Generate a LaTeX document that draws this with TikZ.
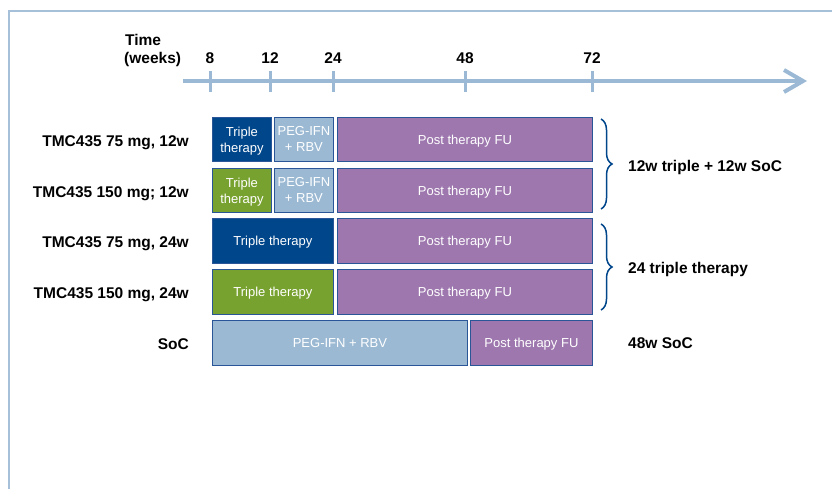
\documentclass[tikz,border=0pt]{standalone}
\usepackage{fontspec}
\setmainfont{Liberation Sans}
\usetikzlibrary{decorations.pathreplacing}
\definecolor{dblue}{HTML}{00468B}
\definecolor{dgreen}{HTML}{78A22F}
\definecolor{lblue}{HTML}{9BB9D3}
\definecolor{purp}{HTML}{9D77AE}
\definecolor{axisc}{HTML}{9BB9D4}
\definecolor{framec}{HTML}{A7C0DA}
\definecolor{edgec}{HTML}{2A5597}
\tikzset{
  bar/.style={draw=edgec, line width=0.9pt, fill=#1, anchor=north west, inner sep=0pt,
    text=white, align=center, text depth=0pt, font=\fontsize{13}{16}\selectfont},
  lab/.style={font=\fontsize{15.5}{18}\selectfont\bfseries, inner sep=0pt},
  tick/.style={draw=axisc, line width=3pt},
  bracestyle/.style={draw=dblue, line width=1.5pt, decorate,
    decoration={brace, amplitude=11pt, aspect=0.5}},
}
\begin{document}
\begin{tikzpicture}[x=1pt, y=-1pt]
\useasboundingbox (0,0) rectangle (832,489);
% frame
\draw[framec, line width=2pt] (9,489) -- (9,11) -- (832,11);
% axis
\coordinate (a0) at (183,81);
\coordinate (a1) at (803,81);
\draw[axisc, line width=4pt] (a0) -- (a1);
\draw[axisc, line width=4pt, line join=miter] (784,70) -- (a1) -- (784,92);
\foreach \x/\t in {210/8, 270/12, 333/24, 465/48, 592/72}{
  \draw[tick] (\x,71) -- (\x,92);
  \node[lab, anchor=base] (t\t) at (\x,64) {\t};
}
\node[lab, anchor=base west] (time) at (125,46) {Time};
\node[lab, anchor=base west] (weeks) at (124,64) {(weeks)};
% row 1
\node[bar=dblue, minimum width=59pt, minimum height=44pt] (r1a) at (212,117) {Triple\\therapy};
\node[bar=lblue, minimum width=59pt, minimum height=44pt] (r1b) at (274,117) {PEG-IFN\\+ RBV};
\node[bar=purp, minimum width=255pt, minimum height=44pt] (r1c) at (337,117) {Post therapy FU};
% row 2
\node[bar=dgreen, minimum width=59pt, minimum height=44pt] (r2a) at (212,168) {Triple\\therapy};
\node[bar=lblue, minimum width=59pt, minimum height=44pt] (r2b) at (274,168) {PEG-IFN\\+ RBV};
\node[bar=purp, minimum width=255pt, minimum height=44pt] (r2c) at (337,168) {Post therapy FU};
% row 3
\node[bar=dblue, minimum width=121pt, minimum height=45pt] (r3a) at (212,218) {Triple therapy};
\node[bar=purp, minimum width=255pt, minimum height=45pt] (r3c) at (337,218) {Post therapy FU};
% row 4
\node[bar=dgreen, minimum width=121pt, minimum height=45pt] (r4a) at (212,269) {Triple therapy};
\node[bar=purp, minimum width=255pt, minimum height=45pt] (r4c) at (337,269) {Post therapy FU};
% row 5
\node[bar=lblue, minimum width=255pt, minimum height=45pt] (r5a) at (212,320) {PEG-IFN + RBV};
\node[bar=purp, minimum width=122pt, minimum height=45pt] (r5c) at (470,320) {Post therapy FU};
% left labels
\node[lab, anchor=base east] (l1) at (189,146.5) {TMC435 75 mg, 12w};
\node[lab, anchor=base east] (l2) at (189,197.5) {TMC435 150 mg; 12w};
\node[lab, anchor=base east] (l3) at (189,247.5) {TMC435 75 mg, 24w};
\node[lab, anchor=base east] (l4) at (189,298.5) {TMC435 150 mg, 24w};
\node[lab, anchor=base east] (l5) at (189,349.5) {SoC};
% braces
\coordinate (b1t) at (601,119);
\coordinate (b1b) at (601,209);
\coordinate (b2t) at (601,224);
\coordinate (b2b) at (601,310);
\draw[bracestyle] (b1t) -- (b1b);
\draw[bracestyle] (b2t) -- (b2b);
% right labels
\node[lab, anchor=base west] (g1) at (628,171.5) {12w triple + 12w SoC};
\node[lab, anchor=base west] (g2) at (628,273.5) {24 triple therapy};
\node[lab, anchor=base west] (g3) at (628,348.5) {48w SoC};
\end{tikzpicture}
\end{document}
